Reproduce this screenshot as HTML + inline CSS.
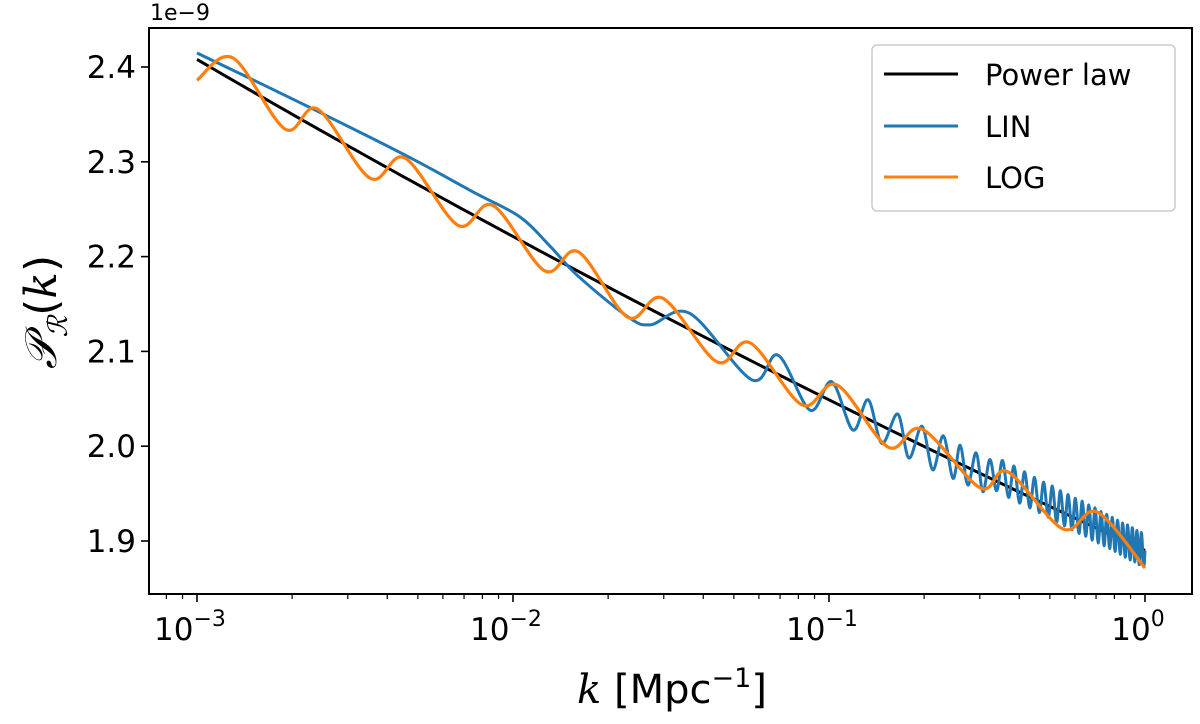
<!DOCTYPE html>
<html><head><meta charset="utf-8">
<style>
html,body{margin:0;padding:0;background:#fff;}
svg{display:block;font-family:"DejaVu Sans","Liberation Sans",sans-serif;}
</style></head>
<body>
<svg id="chart" width="1200" height="724" viewBox="0 0 1200 724">
  <rect x="0" y="0" width="1200" height="724" fill="#fff"/>
  <g id="series"></g>
  <g id="axes"></g>
  <text x="150" y="20" font-size="22" fill="#000">1e−9</text>
  <g transform="translate(56,312) rotate(-90)">
    <text x="0" y="0" text-anchor="middle" font-size="44" font-family="'DejaVu Serif','Liberation Serif',serif" font-style="italic">𝒫<tspan font-size="27" dy="11">ℛ</tspan><tspan dy="-11" font-style="normal" font-family="'DejaVu Sans',sans-serif">(</tspan>k<tspan font-style="normal" font-family="'DejaVu Sans',sans-serif">)</tspan></text>
  </g>
  <text x="672" y="703" text-anchor="middle" font-size="40"><tspan font-family="'DejaVu Serif',serif" font-style="italic">k</tspan> [Mpc<tspan font-size="27" dy="-16">−1</tspan><tspan dy="16">]</tspan></text>
  <g>
    <rect x="872" y="45" width="303" height="166" rx="5" fill="#fff" fill-opacity="0.8" stroke="#ccc" stroke-width="1.5"/>
    <line x1="884" y1="74" x2="958" y2="74" stroke="#000" stroke-width="3"/>
    <text x="985" y="85" font-size="29">Power law</text>
    <line x1="884" y1="126" x2="958" y2="126" stroke="#1f77b4" stroke-width="3"/>
    <text x="985" y="137" font-size="29">LIN</text>
    <line x1="884" y1="177" x2="958" y2="177" stroke="#ff7f0e" stroke-width="3"/>
    <text x="985" y="188" font-size="29">LOG</text>
  </g>
</svg>
<script>
// ---- data ----
const powerLawK = [0.001, 1.0];
const powerLawP = [2.408, 1.890];
const logK = [0.001,0.0013,0.0019,0.00241,0.00353,0.00455,0.0067,0.00864,0.0126,0.0161,0.0231,0.0298,0.0442,0.0563,0.0822,0.106,0.154,0.197,0.301,0.368,0.550,0.705,1.0];
const logP = [2.386,2.4095,2.3345,2.3556,2.2827,2.304,2.233,2.254,2.185,2.205,2.136,2.156,2.089,2.109,2.0435,2.0646,1.999,2.018,1.956,1.973,1.9127,1.9306,1.8715];
const linK = [0.001,0.0021,0.0045,0.0075,0.0105,0.0131,0.0160,0.0230,0.0272,0.0363,0.0570,0.0690,0.0871,0.102,0.119,0.133,0.147,0.165,0.179,0.197,0.213,0.230,0.247,0.260,0.275,0.292,0.307,0.323,
 0.339,0.354,0.370,0.385,0.401,0.416,0.432,0.447,0.463,0.478,0.494,0.509,0.525,0.540,0.556,0.571,0.587,0.602,0.618,0.633,0.649,0.664,0.680,0.695,0.711,0.726,0.742,0.757,0.773,0.788,0.804,0.819,0.835,0.850,0.866,0.881,0.897,0.912,0.928,0.943,0.959,0.974,0.990,1.0];
const linP = [2.4148,2.363,2.308,2.268,2.242,2.211,2.180,2.137,2.128,2.140,2.070,2.096,2.038,2.068,2.017,2.049,2.003,2.034,1.9875,2.021,1.975,2.011,1.966,2.001,1.959,1.993,1.952,1.986,
 1.953,1.985,1.946,1.979,1.940,1.973,1.935,1.967,1.930,1.962,1.925,1.958,1.920,1.953,1.916,1.949,1.912,1.945,1.908,1.942,1.905,1.938,1.901,1.935,1.898,1.931,1.895,1.928,1.892,1.925,1.889,1.922,1.886,1.919,1.883,1.917,1.880,1.914,1.878,1.911,1.875,1.909,1.873,1.890];
const xTickExp = [-3,-2,-1,0];
const yTicks = [1.9,2.0,2.1,2.2,2.3,2.4];

// ---- axes scales ----
const X0=197, DEC=316, Y19=541, PX_PER=948;
const L=149, R=1192, T=28, B=594;
function xs(k){return X0+(Math.log10(k)+3)*DEC;}
function ys(v){return Y19-(v-1.9)*PX_PER;}
const NS='http://www.w3.org/2000/svg';
function mk(tag,attrs,parent){const e=document.createElementNS(NS,tag);for(const a in attrs)e.setAttribute(a,attrs[a]);parent.appendChild(e);return e;}

const series=document.getElementById('series');
const axes=document.getElementById('axes');

function catmull(pts){
  let d='M'+pts[0][0].toFixed(2)+','+pts[0][1].toFixed(2);
  for(let i=0;i<pts.length-1;i++){
    const p0=pts[Math.max(i-1,0)],p1=pts[i],p2=pts[i+1],p3=pts[Math.min(i+2,pts.length-1)];
    const c1x=p1[0]+(p2[0]-p0[0])/6,c1y=p1[1]+(p2[1]-p0[1])/6;
    const c2x=p2[0]-(p3[0]-p1[0])/6,c2y=p2[1]-(p3[1]-p1[1])/6;
    d+=' C'+c1x.toFixed(2)+','+c1y.toFixed(2)+' '+c2x.toFixed(2)+','+c2y.toFixed(2)+' '+p2[0].toFixed(2)+','+p2[1].toFixed(2);
  }
  return d;
}

const plPts=[];
const a=Math.log10(powerLawK[0]), b=Math.log10(powerLawK[1]);
const la=Math.log10(powerLawP[0]), lb=Math.log10(powerLawP[1]);
for(let i=0;i<=60;i++){const lk=a+(b-a)*i/60;const lp=la+(lb-la)*i/60;plPts.push([xs(Math.pow(10,lk)),ys(Math.pow(10,lp))]);}
const plPath=mk('path',{d:catmull(plPts),fill:'none',stroke:'#000','stroke-width':3},series);



const linPath=mk('path',{d:catmull(linK.map((k,i)=>[xs(k),ys(linP[i])])),fill:'none',stroke:'#1f77b4','stroke-width':3,'stroke-linejoin':'round'},series);



const logPath=mk('path',{d:catmull(logK.map((k,i)=>[xs(k),ys(logP[i])])),fill:'none',stroke:'#ff7f0e','stroke-width':3.2},series);



const frame=mk('rect',{x:L,y:T,width:R-L,height:B-T,fill:'none',stroke:'#000','stroke-width':2},axes);



xTickExp.forEach(e=>{
  const x=xs(Math.pow(10,e));
  const t=mk('line',{x1:x,y1:B,x2:x,y2:B+8,stroke:'#000','stroke-width':1.6},axes);
  
  
  const lab=mk('text',{x:x-7,y:B+46,'text-anchor':'middle','font-size':31},axes);
  
  
  lab.textContent='10';
  const sup=mk('tspan',{'font-size':22,dy:-14},lab);
  sup.textContent=(e<0?'−':'')+Math.abs(e);
});
for(let e=-4;e<=0;e++){for(let m=2;m<=9;m++){const k=m*Math.pow(10,e);const x=xs(k);if(x<=L+1||x>=R-1)continue;
  const t=mk('line',{x1:x,y1:B,x2:x,y2:B+5,stroke:'#000','stroke-width':1.2},axes);
  
  }}
yTicks.forEach(v=>{
  const y=ys(v);
  const t=mk('line',{x1:L-8,y1:y,x2:L,y2:y,stroke:'#000','stroke-width':1.6},axes);
  
  
  const lab=mk('text',{x:L-13,y:y+11,'text-anchor':'end','font-size':31},axes);
  
  
  lab.textContent=v.toFixed(1);
});
</script>
</body></html>
